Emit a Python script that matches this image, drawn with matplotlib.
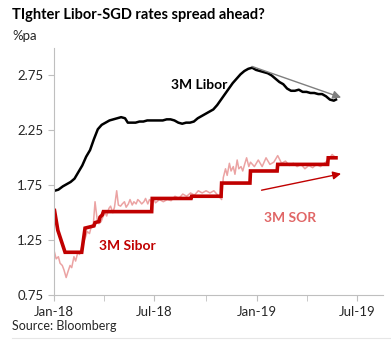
import matplotlib
matplotlib.use("Agg")
import matplotlib.pyplot as plt
import matplotlib.dates as mdates
from matplotlib.lines import Line2D
import pandas as pd

plt.rcParams['font.family'] = ['Lato', 'DejaVu Sans']

# 3M USD Libor
libor_dates = ["2018-01-02", "2018-01-09", "2018-01-17", "2018-01-24", "2018-01-31",
               "2018-02-07", "2018-02-14", "2018-02-21", "2018-02-28", "2018-03-07",
               "2018-03-14", "2018-03-21", "2018-03-28", "2018-04-04", "2018-04-11",
               "2018-04-18", "2018-04-25", "2018-05-02", "2018-05-09", "2018-05-14",
               "2018-05-21", "2018-05-28", "2018-06-04", "2018-06-11", "2018-06-18",
               "2018-06-25", "2018-07-02", "2018-07-09", "2018-07-16", "2018-07-23",
               "2018-07-30", "2018-08-06", "2018-08-13", "2018-08-20", "2018-08-27",
               "2018-09-03", "2018-09-10", "2018-09-17", "2018-09-24", "2018-10-01",
               "2018-10-08", "2018-10-15", "2018-10-22", "2018-10-29", "2018-11-05",
               "2018-11-12", "2018-11-19", "2018-11-26", "2018-12-03", "2018-12-10",
               "2018-12-17", "2018-12-24", "2018-12-31", "2019-01-07", "2019-01-14",
               "2019-01-21", "2019-01-28", "2019-02-04", "2019-02-11", "2019-02-18",
               "2019-02-25", "2019-03-04", "2019-03-11", "2019-03-18", "2019-03-25",
               "2019-04-01", "2019-04-08", "2019-04-15", "2019-04-22", "2019-04-29",
               "2019-05-06", "2019-05-13", "2019-05-20", "2019-05-24"]
libor_vals = [1.70, 1.71, 1.74, 1.76, 1.78,
              1.81, 1.87, 1.93, 2.01, 2.07,
              2.17, 2.26, 2.30, 2.32, 2.34,
              2.35, 2.36, 2.37, 2.36, 2.32,
              2.32, 2.32, 2.33, 2.33, 2.34,
              2.34, 2.34, 2.34, 2.34, 2.35,
              2.35, 2.34, 2.32, 2.31, 2.32,
              2.32, 2.33, 2.36, 2.38, 2.40,
              2.42, 2.44, 2.48, 2.53, 2.58,
              2.63, 2.68, 2.72, 2.76, 2.79,
              2.81, 2.82, 2.80, 2.79, 2.78,
              2.77, 2.75, 2.72, 2.69, 2.67,
              2.63, 2.61, 2.61, 2.62, 2.60,
              2.60, 2.59, 2.59, 2.58, 2.58,
              2.56, 2.53, 2.52, 2.53]

# 3M Sibor (fixings change in steps)
sibor_dates = ["2018-01-02", "2018-01-08", "2018-01-21", "2018-02-20", "2018-02-26",
               "2018-03-14", "2018-03-16", "2018-03-23", "2018-03-25", "2018-03-29",
               "2018-03-31", "2018-06-26", "2018-06-27", "2018-09-05", "2018-09-06",
               "2018-10-29", "2018-10-30", "2018-12-20", "2018-12-21", "2019-02-07",
               "2019-02-08", "2019-05-09", "2019-05-10", "2019-05-24"]
sibor_vals = [1.52, 1.34, 1.14, 1.14, 1.36,
              1.38, 1.41, 1.42, 1.46, 1.48,
              1.51, 1.51, 1.63, 1.63, 1.65,
              1.65, 1.77, 1.77, 1.88, 1.88,
              1.94, 1.94, 2.00, 2.00]

# 3M SOR
sor_dates = ["2018-01-02", "2018-01-05", "2018-01-09", "2018-01-12", "2018-01-16",
             "2018-01-19", "2018-01-23", "2018-01-26", "2018-01-30", "2018-02-02",
             "2018-02-06", "2018-02-09", "2018-02-13", "2018-02-16", "2018-02-20",
             "2018-02-23", "2018-02-27", "2018-03-02", "2018-03-06", "2018-03-09",
             "2018-03-13", "2018-03-16", "2018-03-20", "2018-03-23", "2018-03-27",
             "2018-03-30", "2018-04-03", "2018-04-06", "2018-04-10", "2018-04-13",
             "2018-04-17", "2018-04-20", "2018-04-24", "2018-04-27", "2018-05-01",
             "2018-05-04", "2018-05-08", "2018-05-11", "2018-05-15", "2018-05-18",
             "2018-05-22", "2018-05-25", "2018-05-29", "2018-06-01", "2018-06-05",
             "2018-06-08", "2018-06-12", "2018-06-15", "2018-06-19", "2018-06-22",
             "2018-06-26", "2018-06-29", "2018-07-03", "2018-07-10", "2018-07-17",
             "2018-07-24", "2018-07-31", "2018-08-07", "2018-08-14", "2018-08-21",
             "2018-08-28", "2018-09-04", "2018-09-11", "2018-09-18", "2018-09-25",
             "2018-10-02", "2018-10-09", "2018-10-16", "2018-10-23", "2018-10-30",
             "2018-11-02", "2018-11-06", "2018-11-09", "2018-11-13", "2018-11-16",
             "2018-11-20", "2018-11-23", "2018-11-27", "2018-11-30", "2018-12-04",
             "2018-12-07", "2018-12-11", "2018-12-14", "2018-12-18", "2018-12-21",
             "2018-12-28", "2019-01-04", "2019-01-11", "2019-01-18", "2019-01-25",
             "2019-02-01", "2019-02-08", "2019-02-15", "2019-02-22", "2019-03-01",
             "2019-03-08", "2019-03-15", "2019-03-22", "2019-03-29", "2019-04-05",
             "2019-04-12", "2019-04-19", "2019-04-26", "2019-05-03", "2019-05-10",
             "2019-05-17", "2019-05-24"]
sor_vals = [1.14, 1.08, 1.10, 1.04, 1.02,
            0.98, 0.91, 0.96, 1.02, 1.00,
            1.10, 1.06, 1.14, 1.12, 1.19,
            1.23, 1.28, 1.33, 1.31, 1.37,
            1.40, 1.60, 1.43, 1.40, 1.42,
            1.46, 1.50, 1.47, 1.54, 1.56,
            1.50, 1.55, 1.70, 1.57, 1.56,
            1.58, 1.60, 1.55, 1.58, 1.62,
            1.57, 1.60, 1.58, 1.62, 1.60,
            1.58, 1.60, 1.63, 1.58, 1.62,
            1.60, 1.63, 1.59, 1.62, 1.60,
            1.62, 1.61, 1.65, 1.63, 1.67,
            1.65, 1.68, 1.66, 1.70, 1.68,
            1.70, 1.68, 1.70, 1.66, 1.62,
            1.82, 1.90, 1.84, 1.95, 1.88,
            1.92, 1.85, 1.98, 1.90, 1.92,
            1.88, 1.95, 2.00, 1.92, 1.96,
            1.92, 1.98, 1.92, 2.00, 1.94,
            1.96, 2.02, 1.95, 1.97, 1.93,
            1.95, 1.92, 1.94, 1.90, 1.93,
            1.91, 1.94, 1.92, 1.95, 1.98,
            2.03, 2.00]

yticks = [0.75, 1.25, 1.75, 2.25, 2.75]

fig = plt.figure(figsize=(3.91, 3.40), dpi=100)
ax = fig.add_axes([0.138, 0.132, 0.842, 0.727])

ax.plot(pd.to_datetime(sor_dates), sor_vals, color="#eba3a3", lw=1.1)
ax.plot(pd.to_datetime(sibor_dates), sibor_vals, color="#c00000", lw=2.6,
        solid_joinstyle="miter")
ax.plot(pd.to_datetime(libor_dates), libor_vals, color="black", lw=1.8)

ax.set_ylim(0.75, 3.0)
ax.set_xlim(pd.Timestamp("2018-01-01"), pd.Timestamp("2019-08-17"))
ax.set_yticks(yticks)
ax.set_yticklabels(["%.2f" % v for v in yticks])

ax.xaxis.set_major_locator(mdates.MonthLocator(bymonth=[1, 7]))
ax.xaxis.set_major_formatter(mdates.DateFormatter("%b-%y"))
ax.xaxis.set_minor_locator(mdates.MonthLocator(bymonth=[4, 10]))

for s in ["top", "right"]:
    ax.spines[s].set_visible(False)
for s in ["left", "bottom"]:
    ax.spines[s].set_color("#bfbfbf")
ax.tick_params(axis="both", which="both", color="#bfbfbf", length=4,
               labelsize=9.5, labelcolor="#262626")
ax.tick_params(axis="x", pad=4)

# trend arrows
ax.annotate("", xy=(pd.Timestamp("2019-06-07"), 2.54), xytext=(pd.Timestamp("2018-12-19"), 2.84),
            arrowprops=dict(arrowstyle="-|>", color="#7f7f7f", lw=1.0, mutation_scale=12))
ax.annotate("", xy=(pd.Timestamp("2019-06-07"), 1.86), xytext=(pd.Timestamp("2019-01-05"), 1.70),
            arrowprops=dict(arrowstyle="-|>", color="#c00000", lw=1.0, mutation_scale=12))

ax.text(pd.Timestamp("2018-09-20"), 2.66, "3M Libor", fontsize=10, fontweight="bold",
        color="black", ha="center", va="center")
ax.text(pd.Timestamp("2019-03-03"), 1.45, "3M SOR", fontsize=10, fontweight="bold",
        color="#e06666", ha="center", va="center")
ax.text(pd.Timestamp("2018-05-14"), 1.20, "3M Sibor", fontsize=10, fontweight="bold",
        color="#c00000", ha="center", va="center")

fig.text(12 / 391, 1 - 15 / 340, "TIghter Libor-SGD rates spread ahead?", fontsize=10.5,
         fontweight="bold", color="black", ha="left", va="center")
fig.text(12 / 391, 1 - 36 / 340, "%pa", fontsize=9.5, color="#262626", ha="left", va="center")
fig.text(12 / 391, 1 - 326 / 340, "Source: Bloomberg", fontsize=9, color="#262626",
         ha="left", va="center")
fig.add_artist(Line2D([12 / 391, 1.0], [1 - 338 / 340] * 2, color="#e6e6e6", lw=0.8))

fig.savefig("out.png", dpi=100)
